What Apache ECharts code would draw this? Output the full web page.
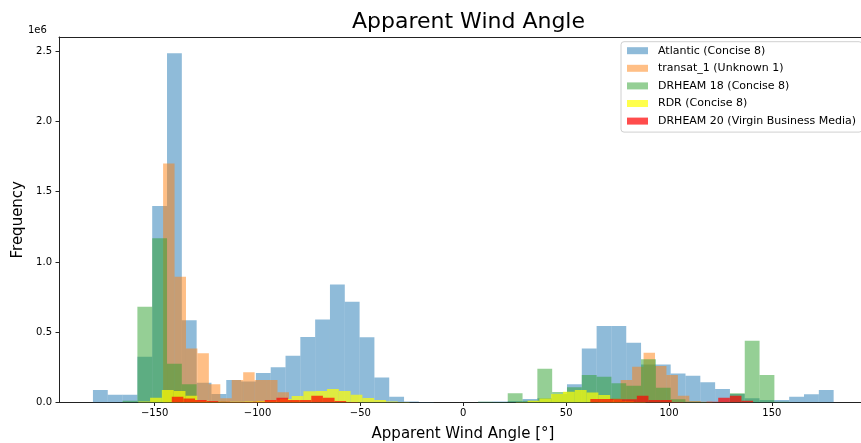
<!DOCTYPE html>
<html><head><meta charset="utf-8">
<script src="https://cdn.jsdelivr.net/npm/echarts@6/dist/echarts.min.js"></script>
<style>html,body{margin:0;padding:0;background:#fff}#c{width:861px;height:443px}</style>
</head><body><div id="c"></div>
<script>
// ---- data (counts in units of 1e6, bins: start angle, bin width in degrees) ----
const seriesNames = ['Atlantic (Concise 8)', 'transat_1 (Unknown 1)', 'DRHEAM 18 (Concise 8)', 'RDR (Concise 8)', 'DRHEAM 20 (Virgin Business Media)'];

const atlanticStart = -180, atlanticWidth = 7.2;
const atlantic = [0.089,0.055,0.055,0.326,1.398,2.484,0.585,0.14,0.06,0.16,
  0.15,0.21,0.25,0.333,0.466,0.59,0.84,0.717,0.464,0.177,
  0.041,0.008,0.003,0,0,0,0.005,0.008,0.01,0.025,
  0.03,0.06,0.13,0.385,0.544,0.544,0.425,0.27,0.27,0.207,
  0.19,0.144,0.096,0.06,0.03,0.018,0.018,0.041,0.058,0.089];

const transatStart = -145.9, transatWidth = 5.56;
const transat = [1.70,0.895,0.385,0.35,0.13,0.03,0.16,0.215,0.16,0.16,
  0.073,0.01,0,0,0,0,0,0,0,0,
  0,0,0,0,0,0,0,0,0,0,
  0,0,0,0,0,0,0,0,0.01,0.03,
  0.16,0.255,0.354,0.26,0.196,0.048,0.01,0.005,0,0];

const drheam18Start = -180, drheam18Width = 7.2;
const drheam18 = [0,0,0.012,0.681,1.168,0.275,0.13,0.008,0.005,0.003,
  0,0,0,0,0,0,0,0,0,0,
  0,0,0,0,0,0,0.005,0.003,0.065,0.012,
  0.24,0.075,0.108,0.196,0.184,0.137,0.12,0.307,0.105,0.024,
  0.005,0.003,0.003,0.065,0.44,0.196,0.005,0,0,0];

const rdrStart = -157.97, rdrWidth = 5.734;
const rdr = [0.008,0.034,0.089,0.082,0.048,0.012,0.008,0.005,0.005,0.008,
  0.01,0.015,0.025,0.046,0.08,0.082,0.096,0.082,0.055,0.032,
  0.018,0.008,0.003,0,0,0,0,0,0,0,
  0,0,0.003,0.013,0.028,0.06,0.077,0.089,0.072,0.053,
  0.02,0.01,0.003,0,0,0,0,0,0,0];

const drheam20Start = -141.69, drheam20Width = 5.651;
const drheam20 = [0.041,0.028,0.018,0.01,0.005,0.003,0.003,0.005,0.018,0.034,
  0.018,0.018,0.048,0.034,0.01,0.003,0,0,0,0,
  0,0,0,0,0,0,0,0,0,0,
  0,0,0,0,0,0,0.025,0.025,0.023,0.023,
  0.048,0.018,0.018,0.003,0,0,0.005,0.034,0.048,0.013];

const xTicks = [-150,-100,-50,0,50,100,150];
const yTicks = [0,0.5,1,1.5,2,2.5];

// ---- build ----
const FONT = 'DejaVu Sans';
const colors = ['rgba(31,119,180,0.5)','rgba(255,127,14,0.5)','rgba(44,160,44,0.5)','rgba(255,255,0,0.7)','rgba(255,0,0,0.7)'];
function bins(start, width, counts){ return counts.map((c,i)=>[start+i*width, start+(i+1)*width, c]); }
const allData = [
  bins(atlanticStart, atlanticWidth, atlantic),
  bins(transatStart, transatWidth, transat),
  bins(drheam18Start, drheam18Width, drheam18),
  bins(rdrStart, rdrWidth, rdr),
  bins(drheam20Start, drheam20Width, drheam20)
];
function renderItem(params, api){
  const a = api.coord([api.value(0), api.value(2)]);
  const b = api.coord([api.value(1), 0]);
  return {type:'rect', shape:{x:a[0], y:a[1], width:b[0]-a[0], height:b[1]-a[1]}, style:{fill: api.visual('color')}};
}
const fmtMinus = v => (v < 0 ? '\u2212' + Math.abs(v) : String(v));
const axisLineStyle = {color:'#222', width:1};
const chart = echarts.init(document.getElementById('c'), null, {renderer:'canvas'});
chart.setOption({
  animation:false,
  backgroundColor:'#fff',
  title:{text:'Apparent Wind Angle', left:347, top:6, textStyle:{fontFamily:FONT, fontSize:22, fontWeight:'normal', color:'#000'}},
  graphic:[{type:'text', left:28, top:25, style:{text:'1e6', fontFamily:FONT, fontSize:10, fill:'#000'}}],
  legend:{orient:'vertical', left:621, top:41.7, icon:'rect', itemWidth:21, itemHeight:7, itemGap:5.6,
    data:seriesNames,
    textStyle:{fontFamily:FONT, fontSize:11, color:'#000', lineHeight:12, padding:[0,0,0,5]},
    backgroundColor:'#fff', borderColor:'#d0d0d0', borderWidth:1, borderRadius:3, padding:[3,6,5,6]},
  grid:{left:59, right:0, top:37, bottom:40.5, containLabel:false, outerBoundsMode:'none'},
  xAxis:[{type:'value', min:-196.5, max:193.3, position:'bottom',
    name:'Apparent Wind Angle [\u00b0]', nameLocation:'middle', nameGap:24,
    nameTextStyle:{fontFamily:FONT, fontSize:15, color:'#000', padding:[0,0,0,6]},
    axisLine:{show:true, onZero:false, lineStyle:axisLineStyle},
    axisTick:{show:true, length:3.5, customValues:xTicks, lineStyle:axisLineStyle},
    axisLabel:{customValues:xTicks, formatter:fmtMinus, fontFamily:FONT, fontSize:10, color:'#000', margin:6},
    splitLine:{show:false}},
   {type:'value', min:-196.5, max:193.3, position:'top',
    axisLine:{show:true, onZero:false, lineStyle:axisLineStyle}, axisTick:{show:false}, axisLabel:{show:false}, splitLine:{show:false}}],
  yAxis:{type:'value', min:0, max:2.6, position:'left',
    name:'Frequency', nameLocation:'middle', nameGap:33, nameRotate:90,
    nameTextStyle:{fontFamily:FONT, fontSize:15, color:'#000'},
    axisLine:{show:true, onZero:false, lineStyle:axisLineStyle},
    axisTick:{show:true, length:3.5, customValues:yTicks, lineStyle:axisLineStyle},
    axisLabel:{customValues:yTicks, formatter:v=>v.toFixed(1), fontFamily:FONT, fontSize:10, color:'#000', margin:7},
    splitLine:{show:false}},
  series: seriesNames.map((n,i)=>({
    name:n, type:'custom', renderItem, xAxisIndex:0, yAxisIndex:0,
    itemStyle:{color:colors[i]}, encode:{x:[0,1], y:2}, data:allData[i], clip:true
  }))
});
</script></body></html>
